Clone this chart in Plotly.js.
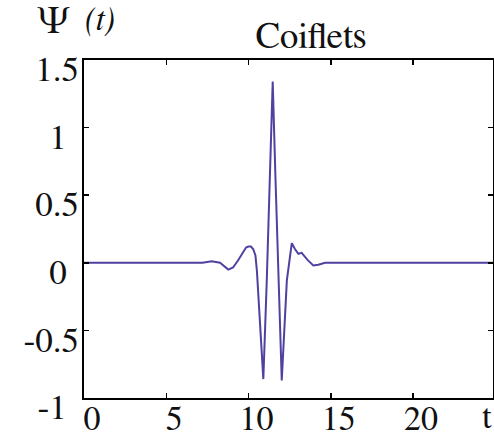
<!DOCTYPE html>
<html>
<head>
<meta charset="utf-8">
<script src="https://cdn.plot.ly/plotly-3.0.1.min.js"></script>
<style>html,body{margin:0;padding:0;background:#fff;}</style>
</head>
<body>
<div id="chart" style="width:494px;height:438px;"></div>
<script>
// Values
const tValues = [0, 2, 4, 6, 7.2, 7.76, 8.27, 8.77, 9.06, 9.36, 9.67, 9.85, 9.99, 10.15, 10.29, 10.42, 10.51, 10.7, 10.9, 11.11, 11.3, 11.47, 11.64, 11.81, 12.02, 12.33, 12.63, 12.83, 13.03, 13.23, 13.6, 13.94, 14.24, 14.65, 16, 18, 20, 22, 24.86];
const psiValues = [0, 0, 0, 0, 0, 0.012, 0, -0.05, -0.035, 0.017, 0.083, 0.113, 0.12, 0.12, 0.10, 0.054, -0.06, -0.5, -0.86, -0.13, 0.65, 1.34, 0.62, -0.13, -0.87, -0.13, 0.145, 0.10, 0.067, 0.074, 0.02, -0.02, -0.015, 0, 0, 0, 0, 0, 0];
const xTicks = [0, 5, 10, 15, 20];
const yTicks = [-1, -0.5, 0, 0.5, 1, 1.5];
const yTickText = ['-1', '-0.5', '0', '0.5', '1', '1.5'];

const font = 'FreeSerif';
const pad = '\u00A0\u200A';
const yTickLabels = yTickText.map(s => (s.length <= 2 ? s + pad : s));

const trace = {
  x: tValues,
  y: psiValues,
  type: 'scatter',
  mode: 'lines',
  line: {color: 'rgb(78,66,160)', width: 2},
  hoverinfo: 'skip'
};

const layout = {
  width: 494,
  height: 438,
  margin: {l: 84, r: 1, t: 60, b: 40},
  paper_bgcolor: '#fff',
  plot_bgcolor: '#fff',
  showlegend: false,
  font: {family: font, size: 34, color: '#111'},
  title: {text: 'Coiflets', font: {family: font, size: 37, color: '#111'},
          x: 311/494, xanchor: 'center', xref: 'container', y: 1 - 35/438, yanchor: 'middle'},
  xaxis: {
    range: [0, 24.86],
    tickvals: xTicks,
    ticktext: xTicks.map(String),
    ticks: 'inside', ticklen: 5, tickwidth: 1.5, tickcolor: '#000',
    showline: true, linecolor: '#000', linewidth: 2, mirror: 'ticks',
    showgrid: false, zeroline: false,
    tickfont: {family: font, size: 34, color: '#111'},
    ticklabelshift: 8,
    ticklabelstandoff: -11
  },
  yaxis: {
    range: [-1, 1.5],
    tickvals: yTicks,
    ticktext: yTickLabels,
    ticks: 'inside', ticklen: 5, tickwidth: 1.5, tickcolor: '#000',
    showline: true, linecolor: '#000', linewidth: 2, mirror: 'ticks',
    showgrid: false, zeroline: false,
    tickfont: {family: font, size: 35, color: '#111'},
    ticklabelstandoff: -4,
    ticklabelshift: 9
  },
  annotations: [
    {text: 'Ψ', xref: 'paper', yref: 'paper', x: (53-84)/409, y: 1 + (60-22)/338,
     xanchor: 'center', yanchor: 'middle', showarrow: false,
     font: {family: font, size: 38, color: '#111'}},
    {text: '<i>(t)</i>', xref: 'paper', yref: 'paper', x: (100-84)/409, y: 1 + (60-20)/338,
     xanchor: 'center', yanchor: 'middle', showarrow: false,
     font: {family: font, size: 33, color: '#111'}},
    {text: 't', xref: 'paper', yref: 'paper', x: (487-84)/409, y: -(418-398)/338,
     xanchor: 'center', yanchor: 'middle', showarrow: false,
     font: {family: font, size: 34, color: '#111'}}
  ]
};

Plotly.newPlot('chart', [trace], layout, {displayModeBar: false, staticPlot: true});
</script>
</body>
</html>
